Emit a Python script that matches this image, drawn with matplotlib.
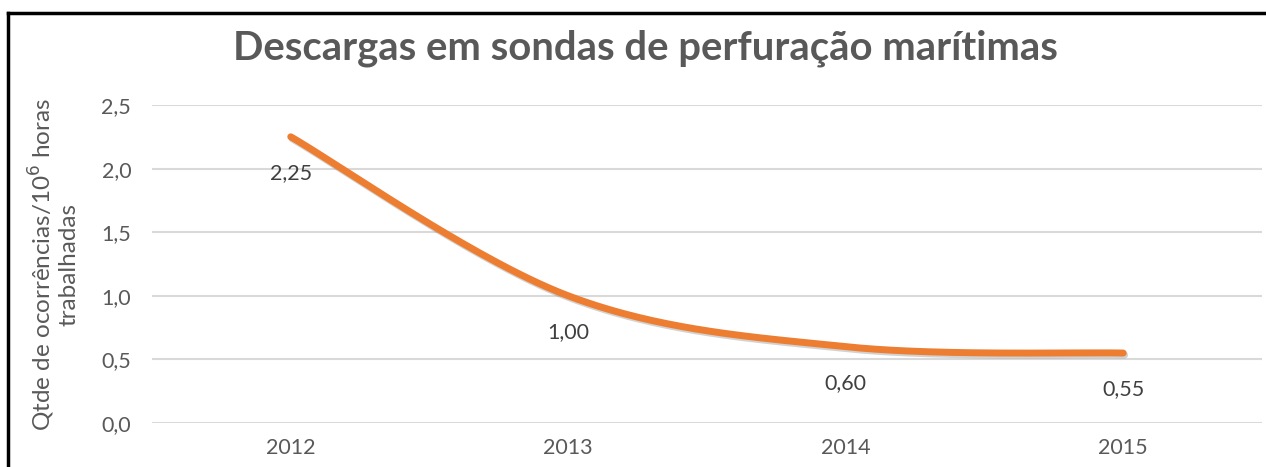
import numpy as np
import matplotlib
matplotlib.use("Agg")
import matplotlib.pyplot as plt
import matplotlib.patheffects as pe

years = ["2012", "2013", "2014", "2015"]
values = [2.25, 1.00, 0.60, 0.55]
labels = ["2,25", "1,00", "0,60", "0,55"]
yticks = [0.0, 0.5, 1.0, 1.5, 2.0, 2.5]
ytick_labels = ["0,0", "0,5", "1,0", "1,5", "2,0", "2,5"]

GRAY = "#595959"
ORANGE = "#ED7D31"
plt.rcParams["font.family"] = ["Lato", "DejaVu Sans"]


def smooth(xs, ys, n=60):
    # catmull-rom, roughly what excel does for "smoothed line"
    px = np.concatenate([[xs[0]], xs, [xs[-1]]])
    py = np.concatenate([[ys[0]], ys, [ys[-1]]])
    out_x, out_y = [], []
    t = np.linspace(0, 1, n)
    for i in range(1, len(px) - 2):
        for p, out in ((px, out_x), (py, out_y)):
            p0, p1, p2, p3 = p[i - 1], p[i], p[i + 1], p[i + 2]
            out.extend(0.5 * (2 * p1 + (-p0 + p2) * t
                              + (2 * p0 - 5 * p1 + 4 * p2 - p3) * t ** 2
                              + (-p0 + 3 * p1 - 3 * p2 + p3) * t ** 3))
    return np.array(out_x), np.array(out_y)


fig = plt.figure(figsize=(12.66, 4.67), dpi=100)
ax = fig.add_axes([152 / 1266, 44 / 467, 1110 / 1266, 318 / 467])

x = np.arange(len(years))
sx, sy = smooth(x.astype(float), np.array(values))
ax.plot(sx, sy, color=ORANGE, lw=5, solid_capstyle="round", zorder=3,
        path_effects=[pe.SimpleLineShadow(offset=(1, -1.5), shadow_color="gray", alpha=0.35), pe.Normal()])

for xi, v, lab in zip(x, values, labels):
    ax.annotate(lab, (xi, v), xytext=(0, -26), textcoords="offset points",
                ha="center", va="center", fontsize=15.5, color="#404040")

ax.set_xlim(-0.5, len(years) - 0.5)
ax.set_ylim(0, 2.5)
ax.set_xticks(x)
ax.set_xticklabels(years)
ax.set_yticks(yticks)
ax.set_yticklabels(ytick_labels)
ax.tick_params(length=0, labelsize=15.5, labelcolor=GRAY, pad=11)
ax.tick_params(axis="y", pad=15)
ax.grid(axis="y", color="#D9D9D9", lw=1.5)
ax.set_axisbelow(True)
for s in ax.spines.values():
    s.set_visible(False)

ax.set_ylabel("Qtde de ocorrências/10$^6$ horas\ntrabalhadas", fontsize=17.5,
              color=GRAY, linespacing=1.05, labelpad=16)

fig.text(645 / 1266, 1 - 48 / 467, "Descargas em sondas de perfuração marítimas",
         ha="center", va="center", fontsize=28.8, fontweight="bold", color=GRAY)

# frame (only top and left edges show in the crop)
fig.add_artist(plt.Line2D([8 / 1266, 1], [1 - 13 / 467, 1 - 13 / 467], color="black", lw=2.5,
                          transform=fig.transFigure))
fig.add_artist(plt.Line2D([8 / 1266, 8 / 1266], [0, 1 - 13 / 467], color="black", lw=2.5,
                          transform=fig.transFigure))

fig.savefig("out.png", dpi=100)
